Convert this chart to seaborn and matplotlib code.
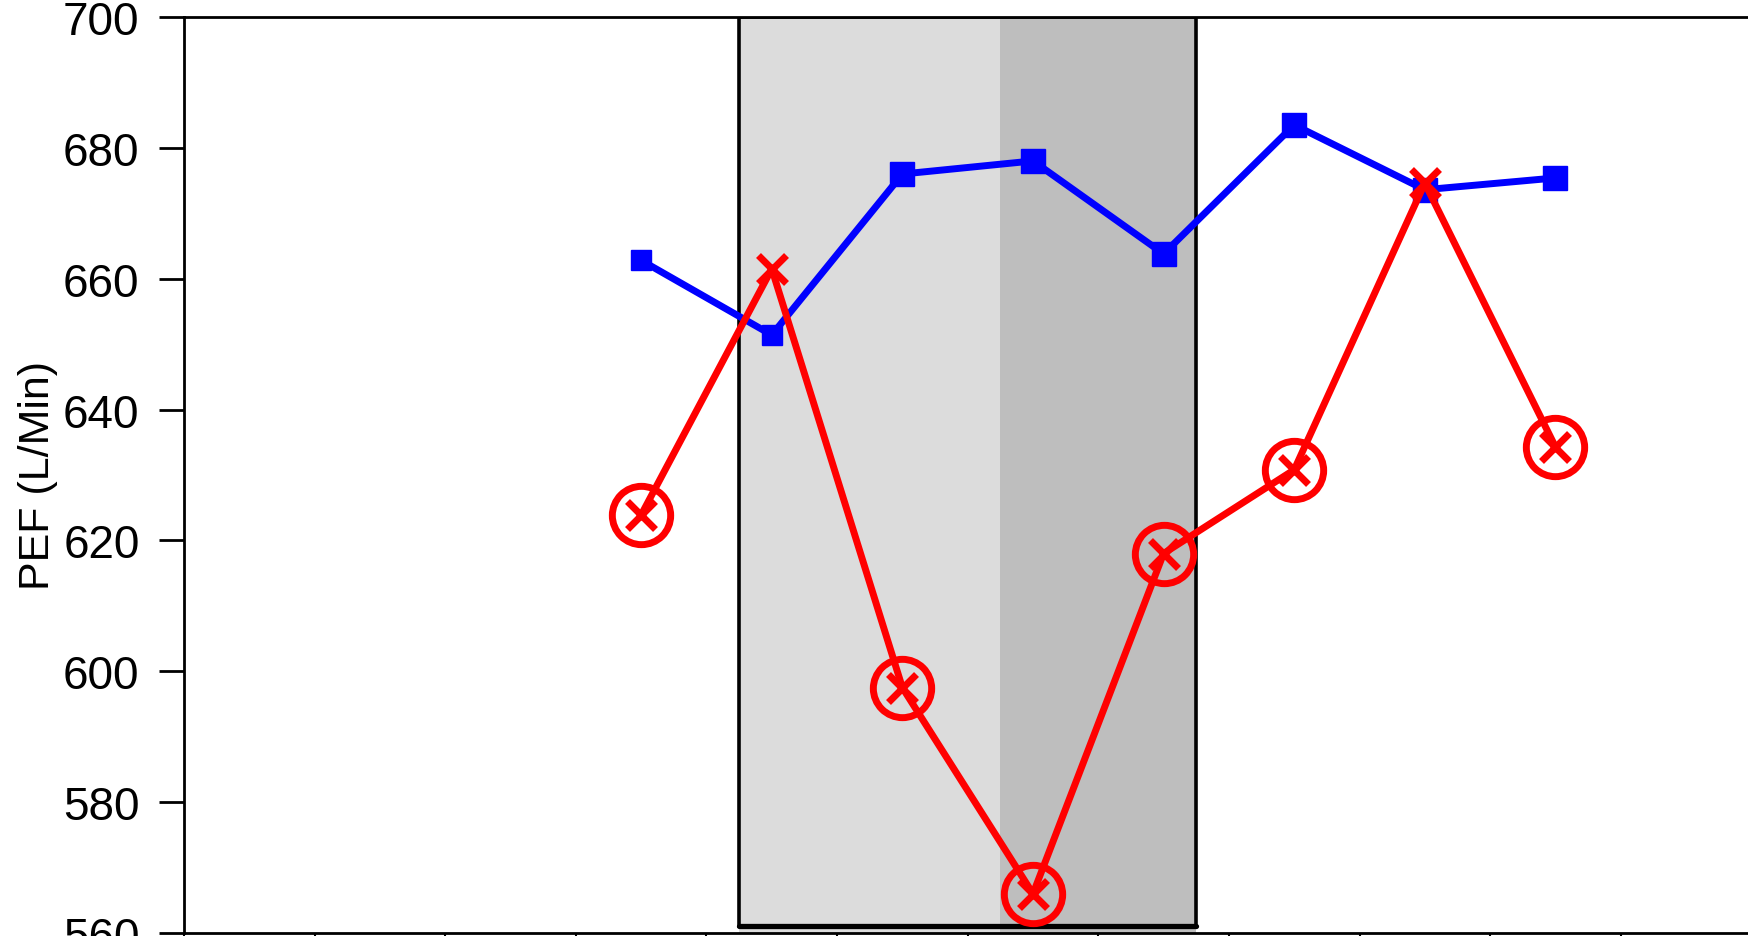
import matplotlib
matplotlib.use("Agg")
import matplotlib.pyplot as plt
from matplotlib import font_manager
from matplotlib.patches import Rectangle
import seaborn as sns
import pandas as pd

# data
visit = [3.5, 4.5, 5.5, 6.5, 7.5, 8.5, 9.5, 10.5]
pef_blue = [662.8, 651.4, 676.0, 678.0, 663.8, 683.5, 673.6, 675.4]
pef_red = [623.9, 661.5, 597.5, 566.0, 618.0, 630.8, 674.6, 634.3]
yticks = [560, 580, 600, 620, 640, 660, 680, 700]
light_span = (4.25, 6.25)
dark_span = (6.25, 7.75)

df = pd.DataFrame({"visit": visit, "blue": pef_blue, "red": pef_red})
df["drop"] = df["red"] < df["blue"]

sns.set_style("white")
names = {f.name for f in font_manager.fontManager.ttflist}
fam = "Liberation Sans Narrow" if "Liberation Sans Narrow" in names else "Liberation Sans"
plt.rcParams["font.family"] = [fam, "DejaVu Sans"]

fig = plt.figure(figsize=(17.48, 9.37), dpi=100)
ax = fig.add_axes([0.1053, 0.0032, 0.8966, 0.9776])

# shaded periods
ax.axvspan(*light_span, color="#dcdcdc", lw=0, zorder=0)
ax.axvspan(*dark_span, color="#bebebe", lw=0, zorder=0)
ax.add_patch(Rectangle((light_span[0], 561.0), dark_span[1] - light_span[0], 139.0,
                       fill=False, ec="black", linewidth=2.6, zorder=1))
ax.plot([light_span[0], dark_span[1]], [561.0, 561.0], color="black", linewidth=3.8, zorder=1)

# blue series
sns.lineplot(data=df, x="visit", y="blue", color="#0000ff", linewidth=5, ax=ax, zorder=2)
ax.plot(df["visit"][:2], df["blue"][:2], ls="none", marker="s", ms=15, color="#0000ff", zorder=3)
ax.plot(df["visit"][2:], df["blue"][2:], ls="none", marker="s", ms=17.5, color="#0000ff", zorder=3)

# red series
sns.lineplot(data=df, x="visit", y="red", color="#ff0000", linewidth=5, ax=ax, zorder=4)
ax.plot(df["visit"], df["red"], ls="none", marker="x", ms=20, mew=5, color="#ff0000", zorder=5)
drops = df[df["drop"]]
ax.plot(drops["visit"], drops["red"], ls="none", marker="o", ms=42, mew=5,
        mfc="none", mec="#ff0000", zorder=5)

ax.set_xlim(0, 12)
ax.set_ylim(560, 700)
ax.set_xticks(range(0, 13))
ax.set_xticklabels([])
ax.set_yticks(yticks)
ax.set_yticklabels([str(v) for v in yticks])
ax.set_xlabel("")
ax.set_ylabel("PEF (L/Min)", fontsize=31, labelpad=4, color="black")

ax.tick_params(axis="y", direction="out", length=18, width=2.0, labelsize=33, pad=14,
               left=True, colors="black")
ax.tick_params(axis="x", direction="out", length=10, width=1.5, bottom=True, colors="black")
for s in ax.spines.values():
    s.set_color("black")
    s.set_linewidth(2.0)

fig.savefig("out.png", dpi=100)
